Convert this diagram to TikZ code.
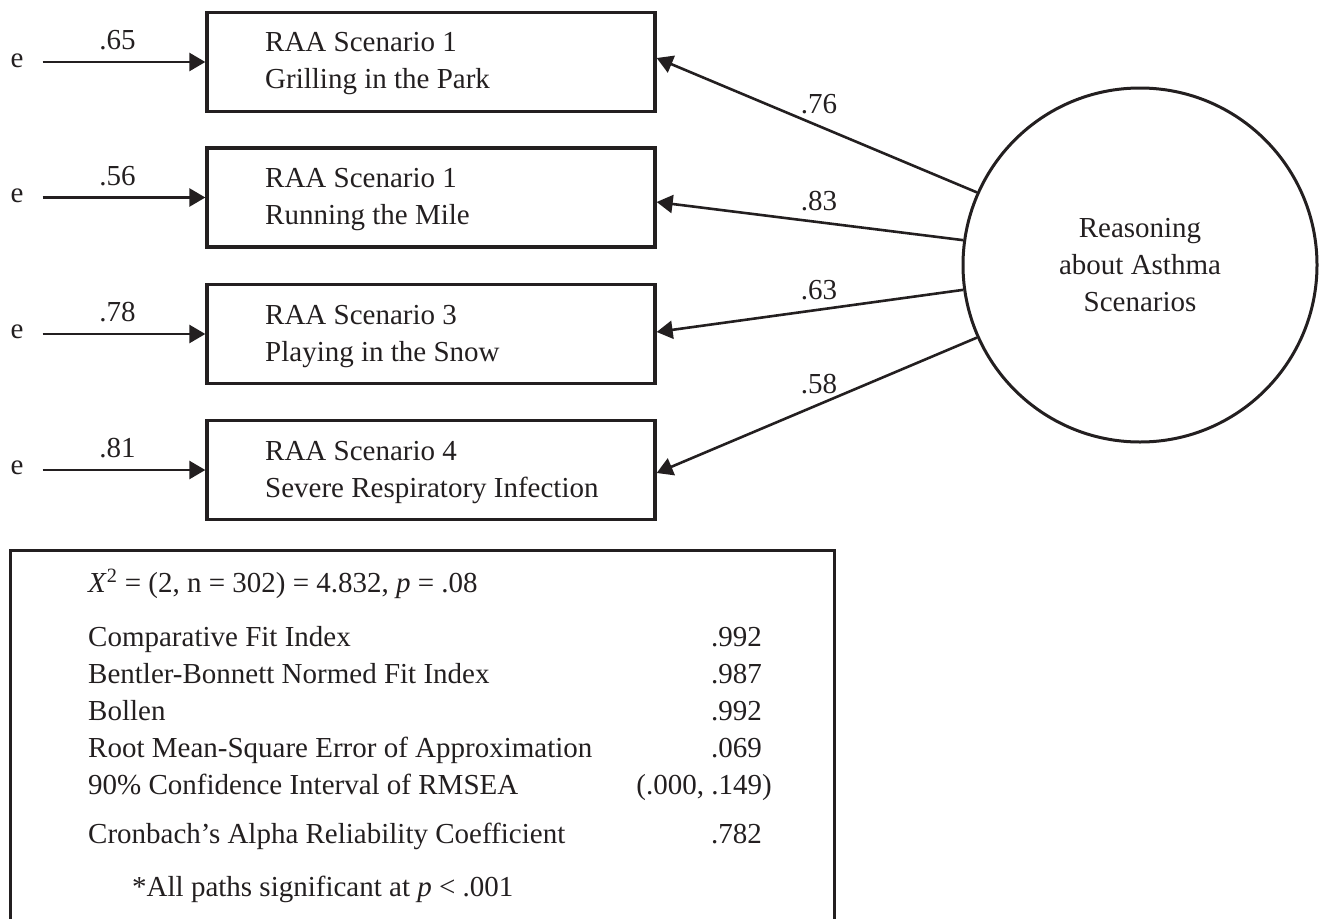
\documentclass[tikz,border=0pt]{standalone}
\usepackage{fontspec}
\setmainfont{Liberation Serif}
\usetikzlibrary{arrows.meta,calc}
\definecolor{ink}{RGB}{35,31,32}
\begin{document}
\begin{tikzpicture}[x=1pt,y=-1pt,
  font=\fontsize{29}{37}\selectfont,
  box/.style={draw=ink, line width=3.3pt, minimum width=448pt, minimum height=99pt, inner sep=0pt},
  txt/.style={text=ink, inner sep=0pt, anchor=base west},
  num/.style={text=ink, inner sep=0pt, anchor=base},
  val/.style={text=ink, inner sep=0pt, anchor=base east},
  arr/.style={draw=ink, line width=2.6pt, -{Triangle[length=16pt,width=18pt]}},
  lat/.style={circle, draw=ink, line width=3pt, minimum size=354pt, inner sep=0pt, align=center, text=ink}
]
\useasboundingbox (0,0) rectangle (1324,918);
\clip (0,0) rectangle (1324,918);

% indicator boxes
\node[box] (b1) at (431,62) {};
\node[box] (b2) at (431,197.5) {};
\node[box] (b3) at (431,334) {};
\node[box] (b4) at (431,470) {};

\node[txt] (t1a) at (265,51) {RAA Scenario 1};
\node[txt] (t1b) at (265,88) {Grilling in the Park};
\node[txt] (t2a) at (265,187) {RAA Scenario 1};
\node[txt] (t2b) at (265,224) {Running the Mile};
\node[txt] (t3a) at (265,324) {RAA Scenario 3};
\node[txt] (t3b) at (265,361) {Playing in the Snow};
\node[txt] (t4a) at (265,460) {RAA Scenario 4};
\node[txt] (t4b) at (265,497) {Severe Respiratory Infection};

% error terms
\node[num] (e1) at (17,67) {e};
\node[num] (e2) at (17,202) {e};
\node[num] (e3) at (17,338) {e};
\node[num] (e4) at (17,474) {e};

\draw[arr, shorten <=19pt] (e1.east |- b1.west) -- (b1.west);
\draw[arr, shorten <=19pt] (e2.east |- b2.west) -- (b2.west);
\draw[arr, shorten <=19pt] (e3.east |- b3.west) -- (b3.west);
\draw[arr, shorten <=19pt] (e4.east |- b4.west) -- (b4.west);

\node[num] (w1) at (117.5,49) {.65};
\node[num] (w2) at (117.5,185) {.56};
\node[num] (w3) at (117.5,321) {.78};
\node[num] (w4) at (117.5,457) {.81};

% latent factor
\node[lat] (f) at (1140,265) {Reasoning\\about Asthma\\Scenarios};

\coordinate (p1) at ($(b1.east)+(0,-4)$);
\coordinate (p2) at ($(b2.east)+(0,4.5)$);
\coordinate (p3) at ($(b3.east)+(0,-2)$);
\coordinate (p4) at ($(b4.east)+(0,3)$);

\draw[arr] (f.156.6) -- (p1);
\draw[arr] (f.172.5) -- (p2);
\draw[arr] (f.188.5) -- (p3);
\draw[arr] (f.204) -- (p4);

\node[num] (l1) at (819,113) {.76};
\node[num] (l2) at (819,210) {.83};
\node[num] (l3) at (819,299) {.63};
\node[num] (l4) at (819,393) {.58};

% fit statistics box
\node[draw=ink, line width=3pt, minimum width=824pt, minimum height=380pt, inner sep=0pt] (fit) at (422,740) {};

\node[txt] (s0) at (88,592) {\textit{X}\textsuperscript{2} = (2, n = 302) = 4.832, \textit{p} = .08};
\node[txt] (s1) at (88,646) {Comparative Fit Index};
\node[txt] (s2) at (88,683) {Bentler-Bonnett Normed Fit Index};
\node[txt] (s3) at (88,720) {Bollen};
\node[txt] (s4) at (88,757) {Root Mean-Square Error of Approximation};
\node[txt] (s5) at (88,794) {90\% Confidence Interval of RMSEA};
\node[txt] (s6) at (88,843) {Cronbach’s Alpha Reliability Coefficient};
\node[txt] (s7) at (132,896) {*All paths significant at \textit{p} < .001};

\node[val] (v1) at (762,646) {.992};
\node[val] (v2) at (762,683) {.987};
\node[val] (v3) at (762,720) {.992};
\node[val] (v4) at (762,757) {.069};
\node[val] (v5) at (772,794) {(.000, .149)};
\node[val] (v6) at (762,843) {.782};
\end{tikzpicture}
\end{document}
